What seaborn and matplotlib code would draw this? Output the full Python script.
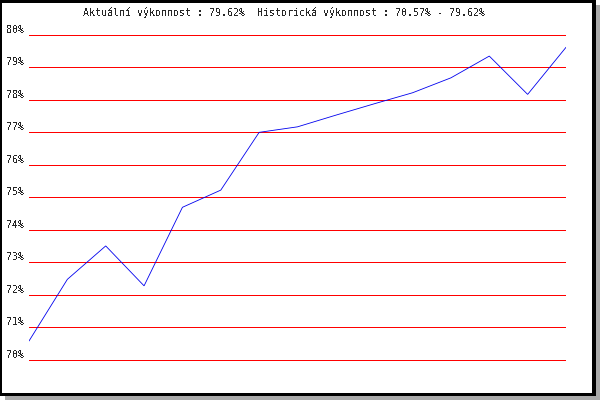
import matplotlib
matplotlib.use("Agg")
import matplotlib.pyplot as plt
from matplotlib.patches import Rectangle
import pandas as pd
import seaborn as sns

# performance history (%)
values = [70.57, 72.47, 73.50, 72.27, 74.69, 75.22, 77.00, 77.17,
          77.53, 77.88, 78.22, 78.68, 79.35, 78.17, 79.62]
yticks = list(range(70, 81))
ytick_labels = [f"{v}%" for v in yticks]
title = "Aktuální výkonnost : 79.62%  Historická výkonnost : 70.57% - 79.62%"

df = pd.DataFrame({"step": range(len(values)), "perf": values})

sns.set_style("white")
plt.rcParams["font.family"] = ["DejaVu Sans Mono", "DejaVu Sans"]
plt.rcParams["text.antialiased"] = False

W, H = 600, 400
fig = plt.figure(figsize=(6, 4), dpi=100)
fig.patch.set_facecolor("white")

# frame with drop shadow (pixel coords, origin top-left)
def px_rect(x0, y0, x1, y1, color):
    fig.patches.append(Rectangle((x0 / W, 1 - y1 / H), (x1 - x0) / W, (y1 - y0) / H,
                                 transform=fig.transFigure, facecolor=color,
                                 edgecolor="none", zorder=-10))

px_rect(5, 5, 600, 400, "#aaaaaa")
px_rect(0, 0, 596, 396, "black")
px_rect(2, 3, 592, 393, "white")

# y: 70% at 359.5 px, 80% at 35 px, padded by 0.2 units each side
ppu = (359.5 - 35) / 10
ax = fig.add_axes([29 / W, 1 - (359.5 + 0.2 * ppu) / H,
                   (566 - 29) / W, (359.5 - 35 + 0.4 * ppu) / H])
ax.set_facecolor("none")

sns.lineplot(data=df, x="step", y="perf", ax=ax, color="#0000ee", zorder=3)
for ln in ax.lines:
    ln.set_linewidth(0.6)
    ln.set_antialiased(True)
    ln.set_solid_joinstyle("miter")

ax.set_xlim(0, len(values) - 1)
ax.set_ylim(69.8, 80.2)
ax.set_xticks([])
ax.set_yticks(yticks)
ax.set_yticklabels(ytick_labels, fontsize=7.2, va="bottom")
ax.tick_params(axis="y", length=0, pad=3)
ax.yaxis.grid(True, color="#ff0000", linewidth=0.7, antialiased=False)
ax.set_axisbelow(True)
ax.set_xlabel("")
ax.set_ylabel("")
for s in ax.spines.values():
    s.set_visible(False)

fig.text(83 / W, 1 - 13 / H, title, fontsize=7.2, ha="left", va="center")

fig.savefig("out.png", dpi=100)
